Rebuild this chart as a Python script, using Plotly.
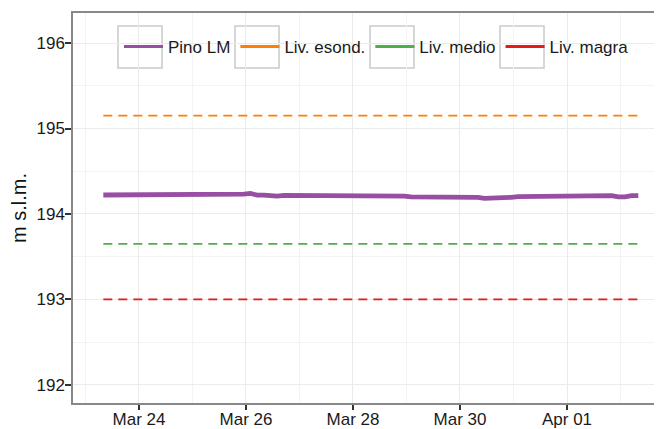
import datetime as dt
import plotly.graph_objects as go

# ---- data ----
start = dt.datetime(2018, 3, 23, 8, 0)
step_hours = 3
pino_values = [
    194.222, 194.222, 194.222, 194.222, 194.222, 194.222, 194.222, 194.222, 194.222, 194.234,
    194.234, 194.234, 194.222, 194.222, 194.222, 194.222, 194.234, 194.234, 194.234, 194.234,
    194.228, 194.232, 194.240, 194.220, 194.220, 194.210, 194.210, 194.218, 194.218, 194.218,
    194.218, 194.218, 194.218, 194.218, 194.218, 194.218, 194.210, 194.210, 194.222, 194.210,
    194.222, 194.222, 194.210, 194.210, 194.210, 194.210, 194.200, 194.200, 194.200, 194.200,
    194.195, 194.195, 194.195, 194.195, 194.195, 194.195, 194.195, 194.183, 194.183, 194.183,
    194.195, 194.195, 194.203, 194.203, 194.210, 194.203, 194.203, 194.203, 194.203, 194.203,
    194.203, 194.203, 194.215, 194.215, 194.215, 194.215, 194.215, 194.200, 194.200, 194.215,
    194.215,
]
times = [start + dt.timedelta(hours=step_hours * i) for i in range(len(pino_values))]

level_names = ["Liv. esond.", "Liv. medio", "Liv. magra"]
level_values = [195.15, 193.65, 193.00]
level_colors = ["#FF7F00", "#4DAF4A", "#E41A1C"]
pino_name = "Pino LM"
pino_color = "#984EA3"

y_ticks = [192, 193, 194, 195, 196]
y_minor = [192.5, 193.5, 194.5, 195.5]
x_range = [dt.datetime(2018, 3, 22, 18, 24), dt.datetime(2018, 4, 2, 18, 37)]
y_range = [191.789, 196.351]

FONT = "Liberation Sans, Arial, sans-serif"

fig = go.Figure()

# actual marks
fig.add_trace(go.Scatter(x=times, y=pino_values, mode="lines",
                         line=dict(color=pino_color, width=4.8),
                         showlegend=False, hoverinfo="skip"))
for name, val, col in zip(level_names, level_values, level_colors):
    fig.add_trace(go.Scatter(x=[times[0], times[-1]], y=[val, val], mode="lines",
                             line=dict(color=col, width=1.8, dash="9px,6px"),
                             showlegend=False, hoverinfo="skip"))

# legend keys (solid lines as in the original key)
for name, col in zip([pino_name] + level_names, [pino_color] + level_colors):
    fig.add_trace(go.Scatter(x=[None], y=[None], mode="lines", name=name,
                             line=dict(color=col, width=3)))

# page has an 8px body margin: figure sits at (8, 8) in the window
OFF = 8
W, H = 662 - OFF, 429 - OFF
# plot area in window pixels: x 73..662, y 13..403
PL, PT, PB, PR = 73, 13, 403, 662
L, T = PL - OFF, PT - OFF
B = H - (PB - OFF)
R = 0
pw, ph = PR - PL, PB - PT


def px(x):
    return (x - PL) / pw


def py(y):
    return (PB - y) / ph


shapes = []
# white legend background covering gridlines
shapes.append(dict(type="rect", xref="paper", yref="paper",
                   x0=px(99), x1=px(629), y0=py(79), y1=py(16),
                   fillcolor="white", line=dict(width=0), layer="between"))
# key boxes
for bx in [118, 235, 370, 500]:
    shapes.append(dict(type="rect", xref="paper", yref="paper",
                       x0=px(bx), x1=px(bx + 44), y0=py(68), y1=py(26),
                       fillcolor="rgba(0,0,0,0)",
                       line=dict(color="#CCCCCC", width=1.6), layer="between"))

fig.update_layout(
    width=W, height=H,
    margin=dict(l=L, r=R, t=T, b=B, pad=0, autoexpand=False),
    paper_bgcolor="white", plot_bgcolor="white",
    font=dict(family=FONT, size=17, color="#1a1a1a"),
    shapes=shapes,
    showlegend=True,
    legend=dict(orientation="h", x=px(119), xanchor="left", y=py(47), yanchor="middle",
                bgcolor="rgba(0,0,0,0)", borderwidth=0, itemwidth=39,
                font=dict(family=FONT, size=17, color="#1a1a1a"),
                traceorder="normal", itemclick=False),
)

fig.update_xaxes(
    type="date", range=x_range, automargin=False,
    tick0="2018-03-24", dtick=2 * 86400000, tickformat="%b %d",
    ticks="outside", ticklen=5, tickwidth=2, tickcolor="#333333",
    ticklabelstandoff=-5,
    showline=True, linecolor="#888888", linewidth=1.5, mirror=True,
    showgrid=True, gridcolor="#EBEBEB", gridwidth=1,
    minor=dict(dtick=86400000, tick0="2018-03-23", showgrid=True,
               gridcolor="#F4F4F4", gridwidth=0.6, ticks=""),
    zeroline=False,
    tickfont=dict(family=FONT, size=17, color="#1a1a1a"),
)
fig.update_yaxes(
    range=y_range, tickvals=y_ticks, automargin=False,
    ticks="outside", ticklen=6, tickwidth=2, tickcolor="#333333",
    ticklabelstandoff=-3,
    showline=True, linecolor="#888888", linewidth=1.5, mirror=False,
    showgrid=True, gridcolor="#EBEBEB", gridwidth=1,
    minor=dict(tickvals=y_minor, showgrid=True,
               gridcolor="#F4F4F4", gridwidth=0.6, ticks=""),
    zeroline=False,
    title=dict(text="m s.l.m.", font=dict(family=FONT, size=20, color="#111111"), standoff=10),
    tickfont=dict(family=FONT, size=17, color="#1a1a1a"),
)

fig.write_html("out.html")
